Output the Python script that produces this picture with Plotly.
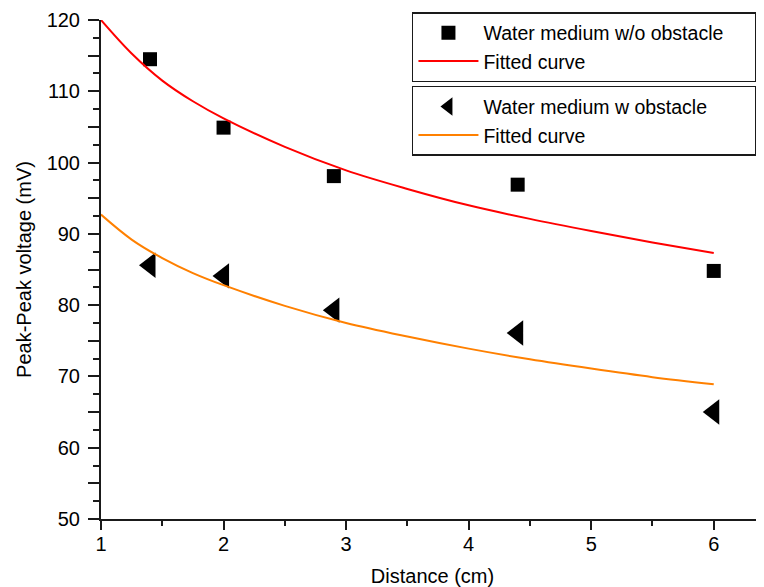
import plotly.graph_objects as go

# Measured data
distance = [1.4, 2.0, 2.9, 4.4, 6.0]
no_obstacle = [114.5, 104.9, 98.1, 96.9, 84.8]
with_obstacle = [85.6, 84.1, 79.3, 76.1, 65.0]

# Fitted curves
fit_x = [1.0, 1.25, 1.5, 1.75, 2.0, 2.5, 3.0, 3.5, 4.0, 4.5, 5.0, 5.5, 6.0]
fit_no_obstacle = [120.0, 115.3, 111.5, 108.6, 106.2, 102.2, 98.9, 96.3, 94.0, 92.1, 90.4, 88.8, 87.3]
fit_with_obstacle = [92.7, 89.2, 86.6, 84.5, 82.8, 79.9, 77.5, 75.6, 73.9, 72.4, 71.1, 69.9, 68.9]

y_tickvals = [50, 55, 60, 65, 70, 75, 80, 85, 90, 95, 100, 105, 110, 115, 120]
y_ticktext = ["50", "", "60", "", "70", "", "80", "", "90", "", "100", "", "110", "", "120"]
x_tickvals = [1, 2, 3, 4, 5, 6]
x_ticktext = ["1", "2", "3", "4", "5", "6"]

FONT = "Liberation Sans, Arial, sans-serif"
AX = "#1a1a1a"
FS = 20
LFS = 19.5
PAD = "\u00a0"

fig = go.Figure()
fig.add_trace(go.Scatter(
    x=distance, y=no_obstacle, mode="markers",
    name="Water medium w/o obstacle" + PAD * 5,
    marker=dict(symbol="square", size=14, color="black"), legend="legend"))
fig.add_trace(go.Scatter(
    x=fit_x, y=fit_no_obstacle, mode="lines", name="Fitted curve",
    line=dict(color="#ff0000", width=2, shape="spline"), legend="legend"))
fig.add_trace(go.Scatter(
    x=distance, y=with_obstacle, mode="markers",
    name="Water medium w obstacle" + PAD * 8,
    marker=dict(symbol="triangle-left", size=22, color="black"), legend="legend2"))
fig.add_trace(go.Scatter(
    x=fit_x, y=fit_with_obstacle, mode="lines", name="Fitted curve",
    line=dict(color="#ff8000", width=2, shape="spline"), legend="legend2"))

legend_common = dict(
    bgcolor="white", bordercolor=AX, borderwidth=1.5,
    font=dict(family=FONT, size=LFS, color="black"),
    xanchor="left", yanchor="top", tracegroupgap=0, itemwidth=60)

fig.update_layout(
    width=756, height=579,
    margin=dict(l=93, r=0, t=12, b=68),
    paper_bgcolor="white", plot_bgcolor="white",
    font=dict(family=FONT, size=FS, color="black"),
    showlegend=True,
    legend=dict(x=0.469, y=1.016, **legend_common),
    legend2=dict(x=0.469, y=0.868, **legend_common),
    xaxis=dict(
        range=[1, 6.41], showgrid=False, zeroline=False, automargin=False,
        showline=True, linecolor=AX, linewidth=2,
        tickmode="array", tickvals=x_tickvals, ticktext=x_ticktext,
        ticks="outside", ticklen=9, tickwidth=2, tickcolor=AX,
        minor=dict(dtick=0.5, ticks="outside", ticklen=5, tickwidth=2, tickcolor=AX),
        tickfont=dict(family=FONT, size=FS, color="black"),
        ticklabelstandoff=-3,
        title=dict(text="Distance (cm)", font=dict(family=FONT, size=FS, color="black"), standoff=16),
    ),
    yaxis=dict(
        range=[50, 120], showgrid=False, zeroline=False, automargin=False,
        showline=True, linecolor=AX, linewidth=2,
        tickmode="array", tickvals=y_tickvals, ticktext=y_ticktext,
        ticks="outside", ticklen=11, tickwidth=2, tickcolor=AX,
        minor=dict(dtick=2.5, ticks="outside", ticklen=6, tickwidth=2, tickcolor=AX),
        tickfont=dict(family=FONT, size=FS, color="black"),
        ticklabelstandoff=4,
        title=dict(text="Peak-Peak voltage (mV)", font=dict(family=FONT, size=FS, color="black"), standoff=10),
    ),
)

fig.write_html("out.html")
